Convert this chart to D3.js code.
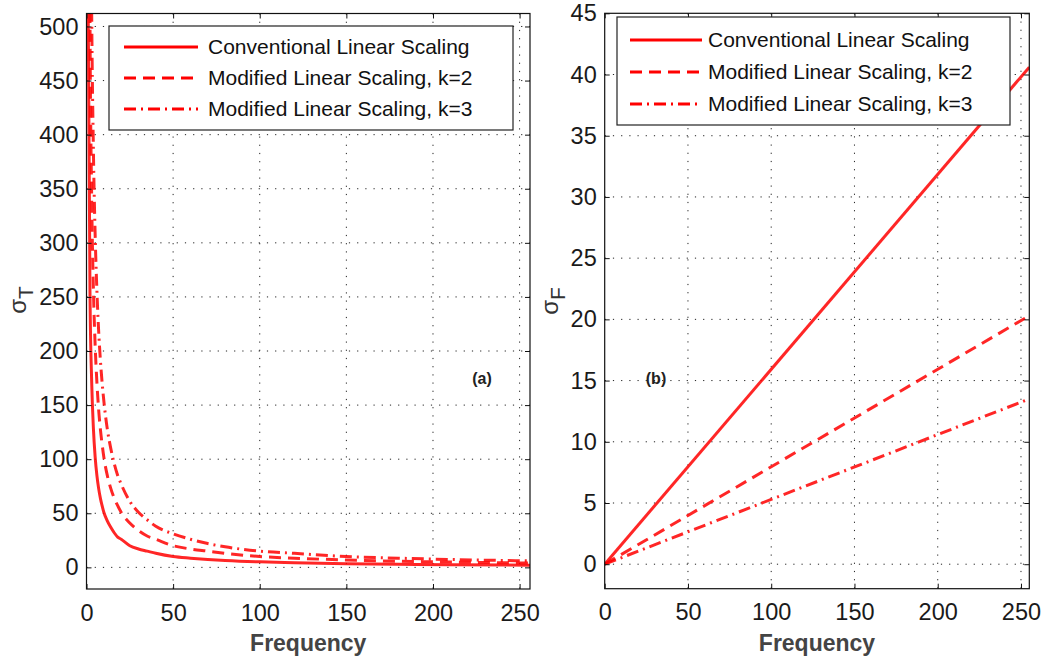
<!DOCTYPE html>
<html>
<head>
<meta charset="utf-8">
<script src="https://cdn.jsdelivr.net/npm/d3@7"></script>
<style>
    body { margin: 0; background: #fff; }
    svg { display: block; font-family: "Liberation Sans", Arial, sans-serif; }
    .grid line { stroke: #222; stroke-width: 1; stroke-dasharray: 1.2,7; }
    .tick text { fill: #1a1a1a; }
</style>
</head>
<body>
<svg id="chart" width="1042" height="662"></svg>
<script>

// ---- data ----

// panel (a): time spread against frequency, sampled at these frequencies
const freqT = [1, 2, 3, 4, 5, 6, 7, 8, 9, 10, 12, 14, 16, 18, 20, 25, 30, 35, 40, 50, 60, 70, 80, 100, 120, 150, 180, 210, 256];
const sigmaTConv = [512, 256, 171, 128, 102, 85, 73, 64, 57, 51, 43, 37, 32, 28, 26, 20, 17, 15, 13, 10, 8.5, 7.3, 6.4, 5.1, 4.3, 3.4, 2.8, 2.4, 2.0];
const sigmaTk2 = [1024, 512, 341, 256, 205, 171, 146, 128, 114, 102, 85, 73, 64, 57, 51, 41, 34, 29, 26, 20, 17, 15, 13, 10, 8.5, 6.8, 5.7, 4.9, 4.0];
const sigmaTk3 = [1536, 768, 512, 384, 307, 256, 219, 192, 171, 154, 128, 110, 96, 85, 77, 61, 51, 44, 38, 31, 26, 22, 19, 15, 13, 10, 8.5, 7.3, 6.0];

// panel (b): frequency spread, straight lines from the origin
const freqF = [0, 255];
const sigmaFConv = [0, 40.6];
const sigmaFk2 = [0, 20.3];
const sigmaFk3 = [0, 13.5];

// legend entries and tick values
const seriesNames = ['Conventional Linear Scaling', 'Modified Linear Scaling, k=2', 'Modified Linear Scaling, k=3'];
const xTicks = [0, 50, 100, 150, 200, 250];
const yTicksT = [0, 50, 100, 150, 200, 250, 300, 350, 400, 450, 500];
const yTicksF = [0, 5, 10, 15, 20, 25, 30, 35, 40, 45];

// ---- drawing ----

const svg = d3.select('#chart');
const dashes = [null, '12,7', '12,5,2,5'];

function drawPanel( opt ) {

    let x = d3.scaleLinear().domain( opt.xDomain ).range( [opt.left, opt.right] );
    let y = d3.scaleLinear().domain( opt.yDomain ).range( [opt.bottom, opt.top] );
    let w = opt.right - opt.left, h = opt.bottom - opt.top;

    let g = svg.append('g');

    // dotted grid at every tick not sitting on the frame
    let grid = g.append('g').attr('class', 'grid');
    grid.selectAll('.gx')
        .data( opt.xTicks.filter( (d) => x(d) > opt.left + 1 && x(d) < opt.right - 1 ) )
        .enter().append('line')
            .attr('x1', (d) => x(d)).attr('x2', (d) => x(d))
            .attr('y1', opt.top).attr('y2', opt.bottom);
    grid.selectAll('.gy')
        .data( opt.yTicks.filter( (d) => y(d) < opt.bottom - 1 && y(d) > opt.top + 1 ) )
        .enter().append('line')
            .attr('y1', (d) => y(d)).attr('y2', (d) => y(d))
            .attr('x1', opt.left).attr('x2', opt.right);

    // curves, clipped to the plot box
    let clipId = 'clip' + opt.name;
    g.append('clipPath').attr('id', clipId)
        .append('rect')
            .attr('x', opt.left).attr('y', opt.top)
            .attr('width', w).attr('height', h);

    let line = d3.line()
        .x( (d) => x(d[0]) )
        .y( (d) => y(d[1]) )
        .curve( d3.curveMonotoneX );

    let curves = g.append('g').attr('clip-path', 'url(#' + clipId + ')');
    opt.series.forEach( function(s, i) {
        curves.append('path')
            .datum( opt.freq.map( (f, j) => [f, s[j]] ) )
            .attr('d', line)
            .attr('fill', 'none')
            .attr('stroke', '#ff0000')
            .attr('stroke-opacity', 0.85)
            .attr('stroke-width', 3)
            .attr('stroke-dasharray', dashes[i]);
    } );

    // axes with inward ticks on all four sides (matlab box style)
    let fontSize = '23.5px';
    let bottomAxis = g.append('g')
        .attr('transform', 'translate(0,' + opt.bottom + ')')
        .call( d3.axisBottom(x).tickValues( opt.xTicks ).tickSizeInner(-5).tickSizeOuter(0).tickPadding(15) );
    let leftAxis = g.append('g')
        .attr('transform', 'translate(' + opt.left + ',0)')
        .call( d3.axisLeft(y).tickValues( opt.yTicks ).tickSizeInner(-5).tickSizeOuter(0).tickPadding(8) );
    g.append('g')
        .attr('transform', 'translate(0,' + opt.top + ')')
        .call( d3.axisTop(x).tickValues( opt.xTicks ).tickSizeInner(-5).tickSizeOuter(0).tickFormat('') );
    g.append('g')
        .attr('transform', 'translate(' + opt.right + ',0)')
        .call( d3.axisRight(y).tickValues( opt.yTicks ).tickSizeInner(-5).tickSizeOuter(0).tickFormat('') );

    g.selectAll('.domain').remove();
    g.selectAll('.tick line').attr('stroke', '#111');
    bottomAxis.selectAll('text').attr('font-size', fontSize).attr('font-family', null);
    leftAxis.selectAll('text').attr('font-size', fontSize).attr('font-family', null);

    // frame
    g.append('rect')
        .attr('x', opt.left).attr('y', opt.top)
        .attr('width', w).attr('height', h)
        .attr('fill', 'none')
        .attr('stroke', '#111')
        .attr('stroke-width', 1.2);

    // x label
    g.append('text')
        .attr('x', (opt.left + opt.right) / 2)
        .attr('y', 651)
        .attr('text-anchor', 'middle')
        .attr('font-size', '23px')
        .attr('font-weight', 'bold')
        .attr('fill', '#444')
        .text('Frequency');

    // y label, sigma with subscript
    let yl = g.append('text')
        .attr('transform', 'translate(' + opt.yLabelX + ',' + opt.yLabelY + ') rotate(-90)')
        .attr('text-anchor', 'middle')
        .attr('fill', '#333');
    yl.append('tspan').attr('font-size', '24px').text('σ');
    yl.append('tspan').attr('font-size', '21px').attr('dy', 7).text( opt.sub );

    // panel tag
    g.append('text')
        .attr('x', opt.tagX).attr('y', 384)
        .attr('text-anchor', 'middle')
        .attr('font-size', '16px')
        .attr('font-weight', 'bold')
        .attr('fill', '#222')
        .text( opt.tag );

    // legend
    let L = opt.legend;
    let lg = g.append('g');
    lg.append('rect')
        .attr('x', L.x).attr('y', L.y)
        .attr('width', L.w).attr('height', L.h)
        .attr('fill', '#fff')
        .attr('stroke', '#222')
        .attr('stroke-width', 1.2);
    seriesNames.forEach( function(name, i) {
        let cy = L.y + L.row0 + i * L.step;
        lg.append('line')
            .attr('x1', L.lineX0).attr('x2', L.lineX1)
            .attr('y1', cy).attr('y2', cy)
            .attr('stroke', '#ff0000')
            .attr('stroke-width', 3)
            .attr('stroke-dasharray', dashes[i]);
        lg.append('text')
            .attr('x', L.textX).attr('y', cy)
            .attr('dy', '0.35em')
            .attr('font-size', '21px')
            .attr('fill', '#111')
            .text( name );
    } );
}

drawPanel( {
    name: 'a', left: 86.5, right: 530, top: 13.5, bottom: 589,
    xDomain: [0, 256], yDomain: [-20, 512],
    xTicks: xTicks, yTicks: yTicksT,
    freq: freqT, series: [sigmaTConv, sigmaTk2, sigmaTk3],
    sub: 'T', yLabelX: 26, yLabelY: 300,
    tag: '(a)', tagX: 482,
    legend: { x: 109, y: 26, w: 404, h: 104, row0: 21, step: 31, lineX0: 124, lineX1: 198, textX: 208 }
} );

drawPanel( {
    name: 'b', left: 604.7, right: 1029.3, top: 13.3, bottom: 588.7,
    xDomain: [0, 255], yDomain: [-2, 45],
    xTicks: xTicks, yTicks: yTicksF,
    freq: freqF, series: [sigmaFConv, sigmaFk2, sigmaFk3],
    sub: 'F', yLabelX: 558, yLabelY: 301,
    tag: '(b)', tagX: 656,
    legend: { x: 617, y: 17, w: 393, h: 108, row0: 23, step: 32, lineX0: 630, lineX1: 702, textX: 708 }
} );

</script>
</body>
</html>
